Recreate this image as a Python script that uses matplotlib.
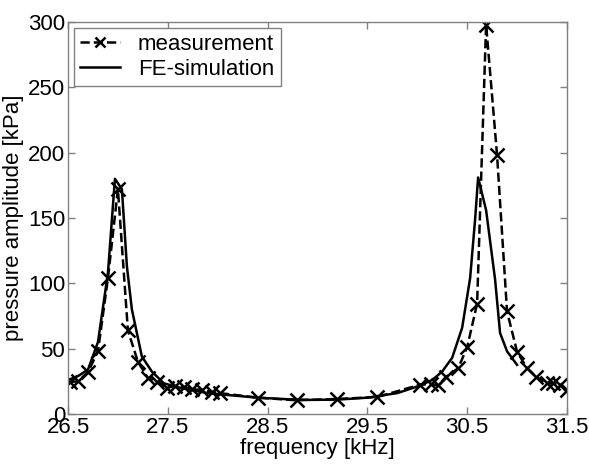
import numpy as np
import matplotlib
matplotlib.use("Agg")
import matplotlib.pyplot as plt

plt.rcParams['font.family'] = ['Liberation Sans', 'DejaVu Sans']

f_meas = [26.52, 26.60, 26.70, 26.80, 26.90, 27.00, 27.10, 27.20, 27.30, 27.39,
          27.49, 27.57, 27.66, 27.74, 27.84, 27.94, 28.02, 28.40, 28.79, 29.20,
          29.60, 30.03, 30.14, 30.21, 30.29, 30.41, 30.50, 30.60, 30.69, 30.80,
          30.90, 31.00, 31.10, 31.19, 31.30, 31.36, 31.43, 31.50]
p_meas = [24.5, 25, 32, 48, 104, 172, 64, 40, 27.6, 24.5,
          20, 21.5, 20.7, 19, 18.4, 17, 16, 12.5, 10.5, 11.5,
          13, 22.5, 22.8, 22, 28.6, 35, 51, 84.5, 298, 198,
          78.5, 47.8, 35, 28.6, 23.5, 23.5, 22, 18]

# FE simulation
f_sim = [26.50, 26.60, 26.70, 26.80, 26.90, 26.97, 27.04, 27.09, 27.14, 27.24,
         27.34, 27.46, 27.60, 27.76, 27.90, 28.09, 28.40, 28.70, 28.92, 29.20,
         29.50, 29.80, 30.00, 30.15, 30.25, 30.35, 30.45, 30.53, 30.58, 30.61,
         30.69, 30.78, 30.83, 30.90, 31.00]
p_sim = [26, 29, 34, 55, 108, 180, 172, 113, 80, 44,
         32.5, 23.5, 20.5, 18, 16, 14.6, 12.5, 11.3, 10.8, 11,
         12.5, 16, 21, 26, 32.5, 43, 66, 104, 149, 181,
         156, 103, 62, 48, 37.6]

xticks = [26.5, 27.5, 28.5, 29.5, 30.5, 31.5]
yticks = [0, 50, 100, 150, 200, 250, 300]

fig = plt.figure(figsize=(5.89, 4.66), dpi=100)
ax = fig.add_axes([0.1155, 0.1116, 0.847, 0.8412])

ax.plot(f_meas, p_meas, 'k--x', lw=1.8, ms=10, mew=1.8, label='measurement')
ax.plot(f_sim, p_sim, 'k-', lw=1.8, label='FE-simulation')

ax.set_xlim(26.5, 31.5)
ax.set_ylim(0, 300)
ax.set_xticks(xticks)
ax.set_xticklabels([str(t) for t in xticks])
ax.set_yticks(yticks)

for s in ax.spines.values():
    s.set_color('#808080')
    s.set_linewidth(1)
ax.tick_params(direction='in', length=5, width=1, color='#808080',
               top=True, right=True, labelsize=16, pad=2)

ax.set_xlabel('frequency [kHz]', fontsize=16, labelpad=0)
ax.set_ylabel('pressure amplitude [kPa]', fontsize=16, labelpad=3)

leg = ax.legend(loc='upper left', fontsize=16, frameon=True, fancybox=False,
                edgecolor='#808080', handlelength=1.8, borderaxespad=0.25,
                borderpad=0.3, labelspacing=0.15, handletextpad=0.8,
                markerscale=0.7)
leg.get_frame().set_linewidth(1)
leg.get_frame().set_alpha(1)

fig.savefig('out.png', dpi=100)
